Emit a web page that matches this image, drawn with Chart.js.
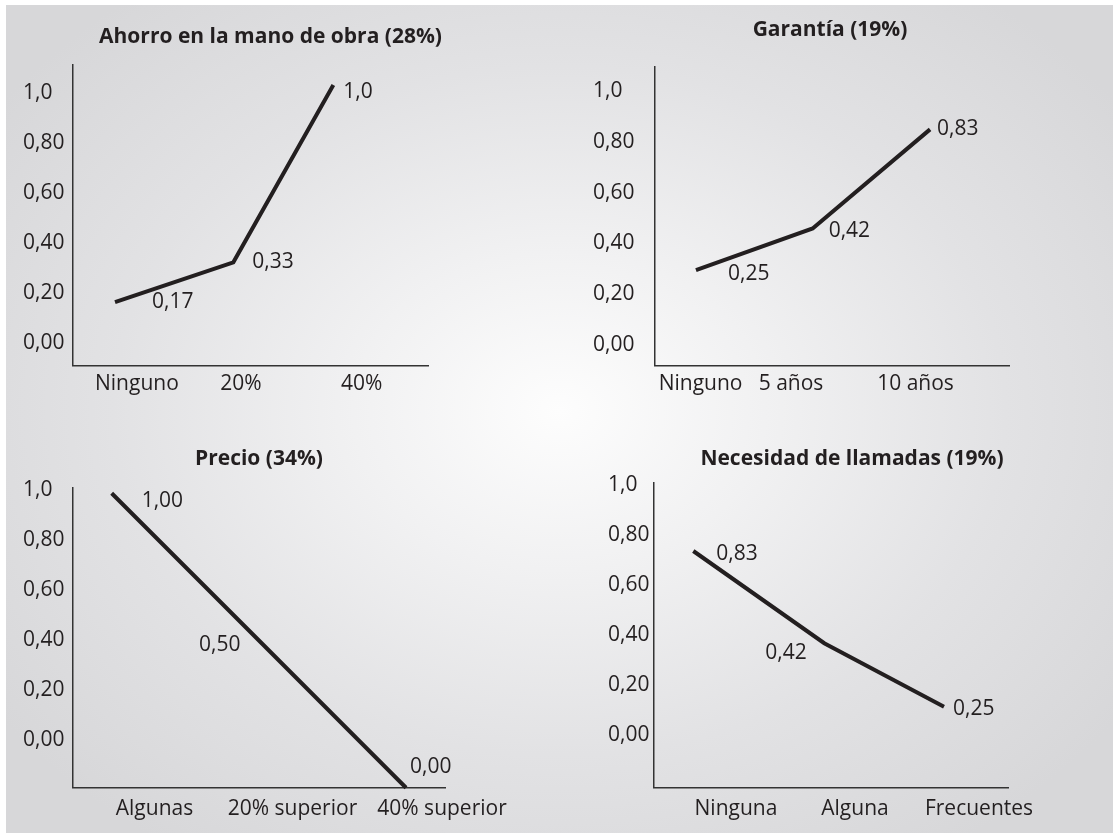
<!DOCTYPE html>
<html lang="es">
<head>
<meta charset="utf-8">
<title>Utilidades parciales</title>
<script src="https://cdn.jsdelivr.net/npm/chart.js@4.4.1/dist/chart.umd.min.js"></script>
<style>
  html, body { margin: 0; padding: 0; background: #fff; }
  #lienzo { position: relative; width: 1113px; height: 835px; overflow: hidden; }
  #fondo {
    position: absolute; left: 6px; top: 5px; width: 1107px; height: 828px;
    background: radial-gradient(ellipse 62% 64% at 50% 49%, #fdfdfd 0%, #f1f1f2 30%, #e2e2e4 65%, #d7d7d9 100%);
  }
  canvas { position: absolute; }
</style>
</head>
<body>
<div id="lienzo">
  <div id="fondo"></div>
  <canvas id="ahorro"></canvas>
  <canvas id="garantia"></canvas>
  <canvas id="precio"></canvas>
  <canvas id="llamadas"></canvas>
</div>

<script>
// Eje vertical común
const valoresEje = [0, 0.2, 0.4, 0.6, 0.8, 1.0];
const etiquetasEje = ['0,00', '0,20', '0,40', '0,60', '0,80', '1,0'];

// Ahorro en la mano de obra (28%)
const ahorroCategorias = ['Ninguno', '20%', '40%'];
const ahorroPosCategorias = [0.54, 1.42, 2.44];
const ahorroPosPuntos = [0.355, 1.355, 2.2];
const ahorroValores = [0.164, 0.323, 1.031];
const ahorroEtiquetas = ['0,17', '0,33', '1,0'];

// Garantía (19%)
const garantiaCategorias = ['Ninguno', '5 años', '10 años'];
const garantiaPosCategorias = [0.386, 1.153, 2.208];
const garantiaPosPuntos = [0.347, 1.336, 2.331];
const garantiaValores = [0.295, 0.459, 0.849];
const garantiaEtiquetas = ['0,25', '0,42', '0,83'];

// Precio (34%)
const precioCategorias = ['Algunas', '20% superior', '40% superior'];
const precioPosCategorias = [0.659, 1.771, 2.976];
const precioPosPuntos = [0.314, 1.525, 2.686];
const precioValores = [0.987, 0.386, -0.191];
const precioEtiquetas = ['1,00', '0,50', '0,00'];

// Necesidad de llamadas (19%)
const llamadasCategorias = ['Ninguna', 'Alguna', 'Frecuentes'];
const llamadasPosCategorias = [0.696, 1.703, 2.752];
const llamadasPosPuntos = [0.335, 1.443, 2.456];
const llamadasValores = [0.736, 0.367, 0.113];
const llamadasEtiquetas = ['0,83', '0,42', '0,25'];

const fuente = '"Open Sans", "Noto Sans", sans-serif';
const tinta = '#231f20';
const altoLinea = 21 * 1.2;

// etiquetas de valor junto a cada punto
const etiquetasPuntos = {
  id: 'etiquetasPuntos',
  afterDatasetsDraw(chart, args, opts) {
    const ctx = chart.ctx;
    const ds = chart.data.datasets[0];
    const meta = chart.getDatasetMeta(0);
    ctx.save();
    ctx.font = '21px ' + fuente;
    ctx.fillStyle = tinta;
    ctx.textAlign = 'left';
    ctx.textBaseline = 'middle';
    meta.data.forEach((pt, i) => {
      ctx.fillText(ds.etiquetas[i], pt.x + opts.dx[i], pt.y + opts.dy[i]);
    });
    ctx.restore();
  }
};

// d: posiciones en píxeles de la página
function crearGrafico(id, titulo, categorias, posCategorias, posPuntos, valores, etiquetas, d) {
  const canvas = document.getElementById(id);
  canvas.width = d.ancho;
  canvas.height = d.alto;
  canvas.style.left = d.x + 'px';
  canvas.style.top = d.y + 'px';
  const tituloDer = 2 * d.tituloX - d.etiquetasX;

  return new Chart(canvas, {
    type: 'line',
    data: {
      datasets: [{
        data: valores.map((v, i) => ({ x: posPuntos[i], y: v })),
        etiquetas: etiquetas,
        borderColor: tinta,
        borderWidth: 4,
        borderJoinStyle: 'miter',
        pointRadius: 0,
        tension: 0,
        fill: false,
        clip: false
      }]
    },
    options: {
      responsive: false,
      animation: false,
      events: [],
      layout: {
        padding: { left: d.etiquetasX - d.x, right: d.x + d.ancho - tituloDer, top: 0, bottom: 0 }
      },
      plugins: {
        legend: { display: false },
        tooltip: { enabled: false },
        title: {
          display: true,
          text: titulo,
          color: tinta,
          font: { family: fuente, size: 21, weight: 'bold', lineHeight: 1.2 },
          padding: { top: d.tituloY - d.y - altoLinea / 2, bottom: d.ejeArriba - d.tituloY - altoLinea / 2 }
        },
        etiquetasPuntos: { dx: d.dx, dy: d.dy }
      },
      scales: {
        x: {
          type: 'linear',
          min: 0,
          max: 3,
          grid: { display: false, drawTicks: false },
          border: { display: true, color: '#333', width: 1.5 },
          afterBuildTicks: s => { s.ticks = posCategorias.map(v => ({ value: v })); },
          afterFit: s => { s.height = d.y + d.alto - d.ejeAbajo; },
          ticks: {
            autoSkip: false,
            maxRotation: 0,
            padding: d.xPad,
            color: tinta,
            font: { family: fuente, size: 21, lineHeight: 1.2 },
            callback: (v, i) => categorias[i]
          }
        },
        y: {
          min: d.yMin,
          max: d.yMax,
          grid: { display: false, drawTicks: false },
          border: { display: true, color: '#333', width: 1.5 },
          afterBuildTicks: s => { s.ticks = valoresEje.map(v => ({ value: v })); },
          afterFit: s => { s.width = d.ejeX - d.etiquetasX; },
          ticks: {
            crossAlign: 'far',
            color: tinta,
            font: { family: fuente, size: 21, lineHeight: 1.2 },
            callback: (v, i) => etiquetasEje[i]
          }
        },
        // espacio a la derecha para centrar el título como en el original
        relleno: {
          type: 'linear',
          position: 'right',
          grid: { display: false },
          border: { display: false },
          ticks: { display: false },
          afterFit: s => { s.width = tituloDer - d.ejeDer; }
        }
      }
    },
    plugins: [etiquetasPuntos]
  });
}

crearGrafico('ahorro', 'Ahorro en la mano de obra (28%)',
  ahorroCategorias, ahorroPosCategorias, ahorroPosPuntos, ahorroValores, ahorroEtiquetas, {
    x: 0, y: 0, ancho: 556, alto: 417,
    etiquetasX: 23, ejeX: 73, ejeDer: 428, ejeArriba: 65, ejeAbajo: 365.7,
    tituloX: 270.5, tituloY: 37.5, xPad: 6,
    yMin: -0.0894, yMax: 1.1105,
    dx: [37, 19, 10], dy: [0, 0, 7]
  });

crearGrafico('garantia', 'Garantía (19%)',
  garantiaCategorias, garantiaPosCategorias, garantiaPosPuntos, garantiaValores, garantiaEtiquetas, {
    x: 556, y: 0, ancho: 557, alto: 417,
    etiquetasX: 593, ejeX: 655, ejeDer: 1009, ejeArriba: 66.7, ejeAbajo: 365.7,
    tituloX: 830, tituloY: 30, xPad: 6,
    yMin: -0.0815, yMax: 1.0957,
    dx: [32, 16, 7], dy: [4, 3, 0]
  });

crearGrafico('precio', 'Precio (34%)',
  precioCategorias, precioPosCategorias, precioPosPuntos, precioValores, precioEtiquetas, {
    x: 0, y: 417, ancho: 556, alto: 418,
    etiquetasX: 23, ejeX: 72.7, ejeDer: 445, ejeArriba: 487.3, ejeAbajo: 787.7,
    tituloX: 259, tituloY: 459.5, xPad: 9,
    yMin: -0.1908, yMax: 1.0108,
    dx: [30, -63, 4], dy: [8, 2, -21]
  });

crearGrafico('llamadas', 'Necesidad de llamadas (19%)',
  llamadasCategorias, llamadasPosCategorias, llamadasPosPuntos, llamadasValores, llamadasEtiquetas, {
    x: 556, y: 417, ancho: 557, alto: 418,
    etiquetasX: 608, ejeX: 653.7, ejeDer: 1008.3, ejeArriba: 482.3, ejeAbajo: 787.7,
    tituloX: 852, tituloY: 459.5, xPad: 9,
    yMin: -0.2108, yMax: 1.0108,
    dx: [23, -59, 9], dy: [3, 9.5, 2]
  });
</script>
</body>
</html>
